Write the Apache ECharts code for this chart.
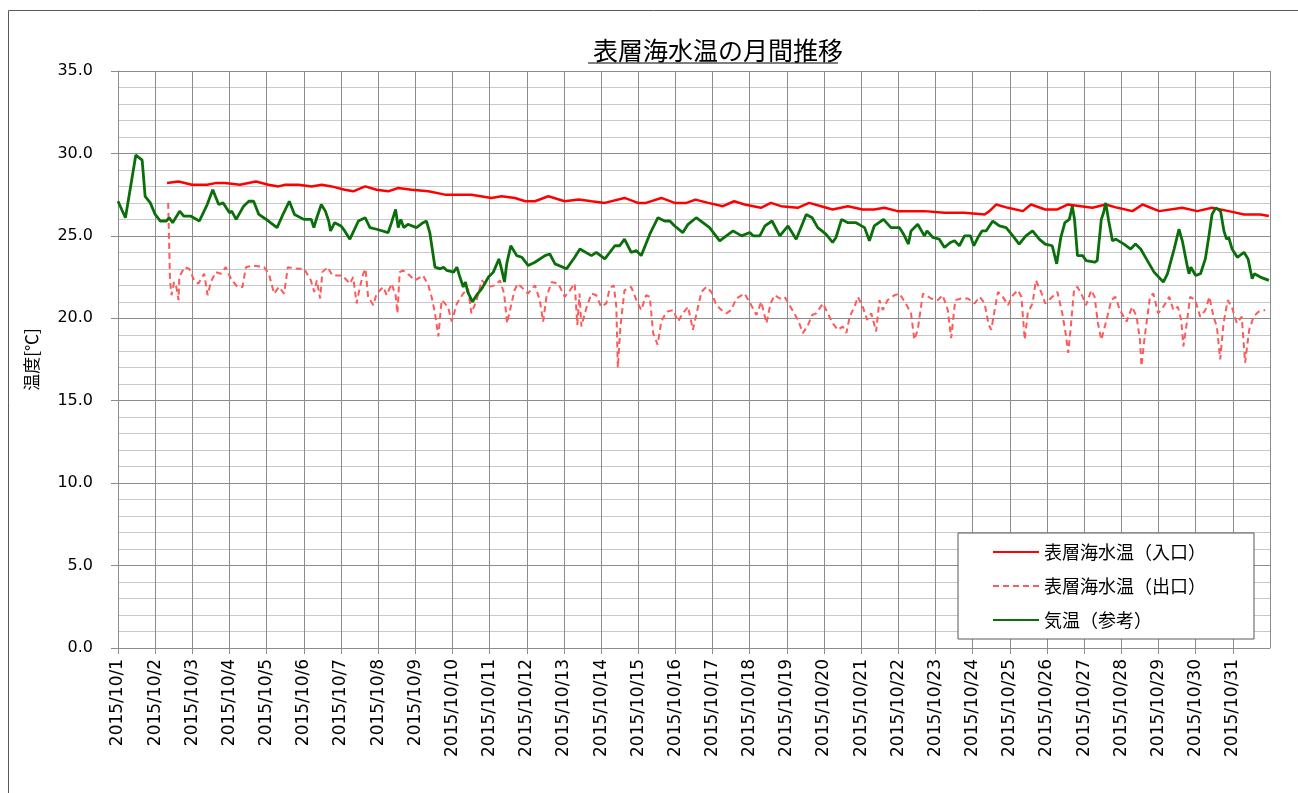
<!DOCTYPE html>
<html>
<head>
<meta charset="utf-8">
<title>表層海水温の月間推移</title>
<script src="https://cdn.jsdelivr.net/npm/echarts@6/dist/echarts.min.js"></script>
<style>
  html, body { margin: 0; padding: 0; background: #fff; }
  #chart { width: 1298px; height: 793px; }
</style>
</head>
<body>
<div id="chart"></div>
<script>
// x = days elapsed since 2015/10/1 00:00, y = temperature [℃]
var dayLabels = [];
for (var i = 1; i <= 31; i++) { dayLabels.push('2015/10/' + i); }

var seriesNames = ['表層海水温（入口）', '表層海水温（出口）', '気温（参考）'];

var inletTemp = [
  [1.32,28.2],[1.63,28.3],[1.99,28.1],[2.4,28.1],[2.62,28.2],[2.88,28.2],[3.28,28.1],[3.71,28.3],
  [4.05,28.1],[4.32,28.0],[4.5,28.1],[4.86,28.1],[5.21,28.0],[5.48,28.1],[5.75,28.0],[6.1,27.8],
  [6.33,27.7],[6.65,28.0],[6.96,27.8],[7.27,27.7],[7.54,27.9],[7.9,27.8],[8.35,27.7],[8.8,27.5],
  [9.51,27.5],[10.05,27.3],[10.32,27.4],[10.68,27.3],[10.96,27.1],[11.22,27.1],[11.58,27.4],[12.02,27.1],
  [12.4,27.2],[12.74,27.1],[13.1,27.0],[13.63,27.3],[13.99,27.0],[14.21,27.0],[14.62,27.3],[14.98,27.0],
  [15.3,27.0],[15.54,27.2],[15.88,27.0],[16.28,26.8],[16.58,27.1],[16.86,26.9],[17.3,26.7],[17.57,27.0],
  [17.84,26.8],[18.29,26.7],[18.6,27.0],[18.92,26.8],[19.23,26.6],[19.64,26.8],[20.04,26.6],[20.35,26.6],
  [20.62,26.7],[20.98,26.5],[21.7,26.5],[22.24,26.4],[22.78,26.4],[23.32,26.3],[23.45,26.5],[23.63,26.9],
  [23.95,26.7],[24.35,26.5],[24.57,26.9],[24.95,26.6],[25.28,26.6],[25.55,26.9],[25.91,26.8],[26.22,26.7],
  [26.58,26.9],[26.9,26.7],[27.3,26.5],[27.57,26.9],[28.02,26.5],[28.64,26.7],[29.04,26.5],[29.44,26.7],
  [29.89,26.5],[30.3,26.3],[30.74,26.3],[30.97,26.2]
];

var outletTemp = [
  [1.35,27.0],[1.4,22.3],[1.44,21.4],[1.51,22.2],[1.57,21.9],[1.63,21.1],[1.65,22.5],[1.79,23.1],
  [1.92,23.0],[2.05,22.3],[2.16,22.1],[2.32,22.7],[2.41,21.4],[2.5,22.2],[2.63,22.8],[2.77,22.7],
  [2.9,23.1],[3.04,22.4],[3.21,21.9],[3.35,21.9],[3.44,23.1],[3.62,23.2],[3.93,23.1],[4.06,22.7],
  [4.2,21.5],[4.33,21.9],[4.47,21.5],[4.57,23.1],[4.83,23.0],[5.01,23.0],[5.19,22.3],[5.28,21.6],
  [5.35,22.3],[5.44,21.2],[5.5,22.8],[5.64,23.1],[5.77,22.6],[6.0,22.6],[6.12,22.4],[6.24,22.1],
  [6.33,22.5],[6.42,20.9],[6.51,21.9],[6.6,22.7],[6.66,23.0],[6.73,21.3],[6.87,20.8],[6.96,21.5],
  [7.14,21.9],[7.23,21.4],[7.36,22.1],[7.47,21.4],[7.52,20.3],[7.58,22.8],[7.67,22.9],[7.85,22.6],
  [7.99,22.3],[8.21,22.6],[8.35,22.0],[8.45,21.2],[8.53,20.3],[8.62,18.9],[8.71,21.1],[8.8,20.9],
  [8.89,20.6],[8.98,19.8],[9.12,20.9],[9.29,21.5],[9.42,21.8],[9.51,20.3],[9.65,21.1],[9.79,22.3],
  [9.97,21.9],[10.14,22.0],[10.28,22.3],[10.39,21.5],[10.47,19.7],[10.57,20.7],[10.67,21.7],[10.76,22.1],
  [10.9,21.8],[11.03,21.5],[11.22,22.0],[11.35,21.1],[11.44,19.8],[11.53,21.3],[11.67,22.2],[11.85,22.1],
  [12.02,21.3],[12.16,21.7],[12.29,22.1],[12.36,19.6],[12.42,21.5],[12.47,19.5],[12.6,20.6],[12.74,21.5],
  [12.87,21.4],[13.0,20.7],[13.14,20.9],[13.23,21.8],[13.34,22.0],[13.41,20.7],[13.45,17.0],[13.52,19.5],
  [13.63,21.7],[13.81,21.9],[13.95,21.1],[14.08,20.5],[14.21,21.4],[14.31,21.3],[14.4,19.1],[14.52,18.4],
  [14.62,19.8],[14.76,20.4],[14.94,20.5],[15.07,19.8],[15.2,20.3],[15.34,20.7],[15.47,19.3],[15.61,20.7],
  [15.7,21.6],[15.83,21.9],[15.97,21.6],[16.1,20.8],[16.24,20.5],[16.37,20.3],[16.5,20.5],[16.64,21.2],
  [16.86,21.5],[17.04,20.8],[17.18,20.2],[17.31,21.0],[17.45,19.7],[17.56,20.9],[17.67,21.4],[17.81,21.2],
  [17.94,21.3],[18.12,20.6],[18.3,19.9],[18.43,19.1],[18.57,19.6],[18.68,20.2],[18.79,20.3],[18.97,20.9],
  [19.1,20.3],[19.23,19.7],[19.37,19.3],[19.5,19.5],[19.6,19.1],[19.69,20.1],[19.82,20.7],[19.91,21.3],
  [20.04,20.7],[20.16,19.9],[20.27,20.3],[20.4,19.2],[20.49,21.1],[20.58,20.5],[20.71,21.1],[20.89,21.4],
  [21.03,21.5],[21.2,20.9],[21.34,20.3],[21.43,18.7],[21.52,19.3],[21.66,21.5],[21.88,21.2],[22.06,21.1],
  [22.19,21.4],[22.33,20.5],[22.42,18.8],[22.53,21.1],[22.69,21.2],[22.87,21.2],[23.05,20.9],[23.19,21.3],
  [23.32,20.9],[23.43,19.6],[23.5,19.3],[23.59,20.5],[23.68,21.6],[23.81,21.3],[23.95,20.8],[24.08,21.4],
  [24.22,21.7],[24.31,21.3],[24.4,18.7],[24.48,20.3],[24.61,20.9],[24.7,22.3],[24.84,21.6],[24.95,20.9],
  [25.05,21.1],[25.28,21.6],[25.41,20.3],[25.5,19.1],[25.57,17.9],[25.64,19.5],[25.73,21.8],[25.82,21.9],
  [25.96,21.3],[26.05,20.8],[26.19,21.7],[26.28,21.3],[26.37,19.7],[26.46,18.7],[26.59,19.8],[26.73,21.1],
  [26.84,21.3],[26.96,20.5],[27.14,19.8],[27.29,20.7],[27.41,20.1],[27.5,18.7],[27.54,17.1],[27.63,18.9],
  [27.77,21.3],[27.86,21.5],[27.99,20.3],[28.13,20.7],[28.29,21.3],[28.4,20.5],[28.52,20.7],[28.61,19.9],
  [28.67,18.3],[28.76,19.7],[28.85,21.3],[28.99,21.1],[29.12,20.1],[29.26,20.5],[29.37,21.3],[29.48,20.1],
  [29.57,19.5],[29.66,17.5],[29.75,19.7],[29.86,21.1],[29.97,20.7],[30.11,19.7],[30.24,20.1],[30.33,17.3],
  [30.44,19.3],[30.56,20.1],[30.69,20.4],[30.87,20.5]
];

var airTemp = [
  [0,27.1],[0.2,26.1],[0.25,26.1],[0.48,29.9],[0.65,29.6],[0.73,27.4],[0.87,27.0],[1.0,26.3],
  [1.14,25.9],[1.3,25.9],[1.38,26.1],[1.47,25.8],[1.66,26.5],[1.77,26.2],[1.95,26.2],[2.19,25.9],
  [2.4,26.9],[2.55,27.8],[2.71,26.9],[2.83,27.0],[3.0,26.4],[3.06,26.5],[3.18,26.0],[3.38,26.8],
  [3.52,27.1],[3.65,27.1],[3.79,26.3],[4.05,25.9],[4.28,25.5],[4.46,26.4],[4.61,27.1],[4.75,26.3],
  [5.0,26.0],[5.2,26.0],[5.27,25.5],[5.35,26.1],[5.47,26.9],[5.58,26.5],[5.67,25.9],[5.72,25.3],
  [5.83,25.8],[6.0,25.6],[6.1,25.3],[6.24,24.8],[6.47,25.9],[6.65,26.1],[6.78,25.5],[6.96,25.4],
  [7.27,25.2],[7.36,25.8],[7.47,26.6],[7.54,25.5],[7.61,26.0],[7.69,25.5],[7.8,25.7],[8.03,25.5],
  [8.21,25.8],[8.3,25.9],[8.39,25.2],[8.53,23.1],[8.67,23.0],[8.76,23.1],[8.85,22.9],[9.03,22.8],
  [9.12,23.1],[9.2,22.5],[9.29,21.9],[9.35,22.2],[9.41,21.6],[9.54,21.0],[9.65,21.4],[9.79,21.8],
  [9.97,22.5],[10.1,22.8],[10.25,23.6],[10.32,23.0],[10.4,22.2],[10.46,23.3],[10.57,24.4],[10.73,23.8],
  [10.87,23.7],[11.04,23.2],[11.22,23.4],[11.49,23.8],[11.62,23.9],[11.76,23.3],[12.07,23.0],[12.29,23.7],
  [12.43,24.2],[12.74,23.8],[12.87,24.0],[13.1,23.6],[13.37,24.4],[13.5,24.4],[13.63,24.8],[13.81,24.0],
  [13.95,24.1],[14.08,23.8],[14.31,25.1],[14.53,26.1],[14.71,25.9],[14.85,25.9],[14.98,25.6],[15.2,25.2],
  [15.34,25.7],[15.56,26.1],[15.74,25.8],[15.92,25.5],[16.19,24.7],[16.37,25.0],[16.55,25.3],[16.78,25.0],
  [17.0,25.2],[17.09,25.0],[17.27,25.0],[17.41,25.6],[17.6,25.9],[17.81,25.0],[18.03,25.6],[18.25,24.8],
  [18.52,26.3],[18.68,26.1],[18.83,25.5],[19.05,25.1],[19.23,24.6],[19.32,24.9],[19.47,26.0],[19.64,25.8],
  [19.86,25.8],[20.09,25.5],[20.22,24.7],[20.35,25.6],[20.6,26.0],[20.8,25.5],[21.03,25.5],[21.14,25.1],
  [21.27,24.5],[21.34,25.3],[21.52,25.7],[21.7,25.0],[21.77,25.3],[21.93,24.9],[22.1,24.8],[22.24,24.3],
  [22.4,24.6],[22.51,24.7],[22.64,24.4],[22.78,25.0],[22.94,25.0],[23.03,24.4],[23.14,24.9],[23.25,25.3],
  [23.36,25.3],[23.54,25.9],[23.72,25.6],[23.9,25.5],[24.08,25.0],[24.25,24.5],[24.43,25.0],[24.61,25.3],
  [24.79,24.8],[24.95,24.5],[25.14,24.4],[25.26,23.3],[25.37,24.9],[25.48,25.8],[25.6,26.0],[25.68,26.8],
  [25.74,26.0],[25.82,23.8],[25.96,23.8],[26.05,23.5],[26.28,23.4],[26.35,23.5],[26.46,26.0],[26.52,26.4],
  [26.58,27.0],[26.66,25.9],[26.76,24.7],[26.85,24.8],[27.07,24.5],[27.25,24.2],[27.38,24.5],[27.52,24.2],
  [27.7,23.5],[27.88,22.8],[28.13,22.2],[28.24,22.7],[28.42,24.2],[28.55,25.4],[28.64,24.7],[28.78,23.1],
  [28.82,22.7],[28.87,23.1],[29.0,22.6],[29.13,22.7],[29.26,23.6],[29.35,24.9],[29.44,26.3],[29.54,26.7],
  [29.67,26.5],[29.76,25.3],[29.83,24.8],[29.89,24.9],[29.98,24.2],[30.12,23.7],[30.3,24.0],[30.41,23.6],
  [30.52,22.4],[30.58,22.7],[30.74,22.5],[30.97,22.3]
];

var chart = echarts.init(document.getElementById('chart'));

var option = {
  backgroundColor: '#fff',
  animation: false,
  title: {
    text: '表層海水温の月間推移',
    left: 713,
    top: 33,
    textAlign: 'center',
    textStyle: { fontFamily: 'Noto Sans CJK JP', fontSize: 25, fontWeight: 'normal', color: '#000' }
  },
  graphic: [
    { type: 'rect', shape: { x: 8.5, y: 10.5, width: 1320, height: 820 },
      style: { fill: 'none', stroke: '#595959', lineWidth: 1 }, silent: true },
    // underline of the title
    { type: 'line', shape: { x1: 588, y1: 63, x2: 838, y2: 63 },
      style: { stroke: '#000', lineWidth: 1.2 }, silent: true }
  ],
  grid: { left: 118, right: 28, top: 71, bottom: 145, containLabel: false },
  legend: {
    orient: 'vertical',
    left: 958,
    top: 533,
    padding: [7, 48, 7, 34],
    itemWidth: 46,
    itemHeight: 20,
    itemGap: 10,
    backgroundColor: '#fff',
    borderColor: '#595959',
    borderWidth: 1,
    borderRadius: 0,
    itemStyle: { opacity: 0 },
    data: seriesNames,
    textStyle: { fontFamily: 'Noto Sans CJK JP', fontSize: 18, lineHeight: 24, color: '#000' }
  },
  xAxis: {
    type: 'value',
    min: 0,
    max: 31,
    interval: 1,
    axisLine: { show: true, lineStyle: { color: '#8c8c8c', width: 1 } },
    axisTick: { show: true, length: 6, lineStyle: { color: '#8c8c8c' } },
    splitLine: { show: true, lineStyle: { color: '#8c8c8c', width: 1 } },
    axisLabel: {
      rotate: 90,
      margin: 11,
      fontFamily: 'DejaVu Sans',
      fontSize: 17,
      color: '#000',
      showMaxLabel: false,
      formatter: function (v) { return dayLabels[v] || ''; }
    }
  },
  yAxis: {
    type: 'value',
    min: 0,
    max: 35,
    interval: 5,
    name: '温度[℃]',
    nameLocation: 'middle',
    nameGap: 78,
    nameRotate: 90,
    nameTextStyle: { fontFamily: 'Noto Sans CJK JP', fontSize: 17, color: '#000' },
    axisLine: { show: true, lineStyle: { color: '#8c8c8c', width: 1 } },
    axisTick: { show: true, length: 7, lineStyle: { color: '#8c8c8c' } },
    splitLine: { show: true, lineStyle: { color: '#8c8c8c', width: 1 } },
    minorTick: { show: false, splitNumber: 5 },
    minorSplitLine: { show: true, lineStyle: { color: '#c8c8c8', width: 1 } },
    axisLabel: {
      margin: 25,
      fontFamily: 'DejaVu Sans',
      fontSize: 16,
      color: '#000',
      formatter: function (v) { return v.toFixed(1); }
    }
  },
  series: [
    {
      name: seriesNames[0],
      type: 'line',
      data: inletTemp,
      showSymbol: false,
      symbol: 'none',
      lineStyle: { color: '#ff0000', width: 2.5 },
      itemStyle: { color: '#ff0000' },
      z: 4
    },
    {
      name: seriesNames[1],
      type: 'line',
      data: outletTemp,
      showSymbol: false,
      symbol: 'none',
      lineStyle: { color: '#ff5a5a', width: 2, type: [6, 4] },
      itemStyle: { color: '#ff5a5a' },
      z: 3
    },
    {
      name: seriesNames[2],
      type: 'line',
      data: airTemp,
      showSymbol: false,
      symbol: 'none',
      lineStyle: { color: '#0a6e0a', width: 2.8 },
      itemStyle: { color: '#0a6e0a' },
      z: 5
    }
  ]
};

chart.setOption(option);
</script>
</body>
</html>
